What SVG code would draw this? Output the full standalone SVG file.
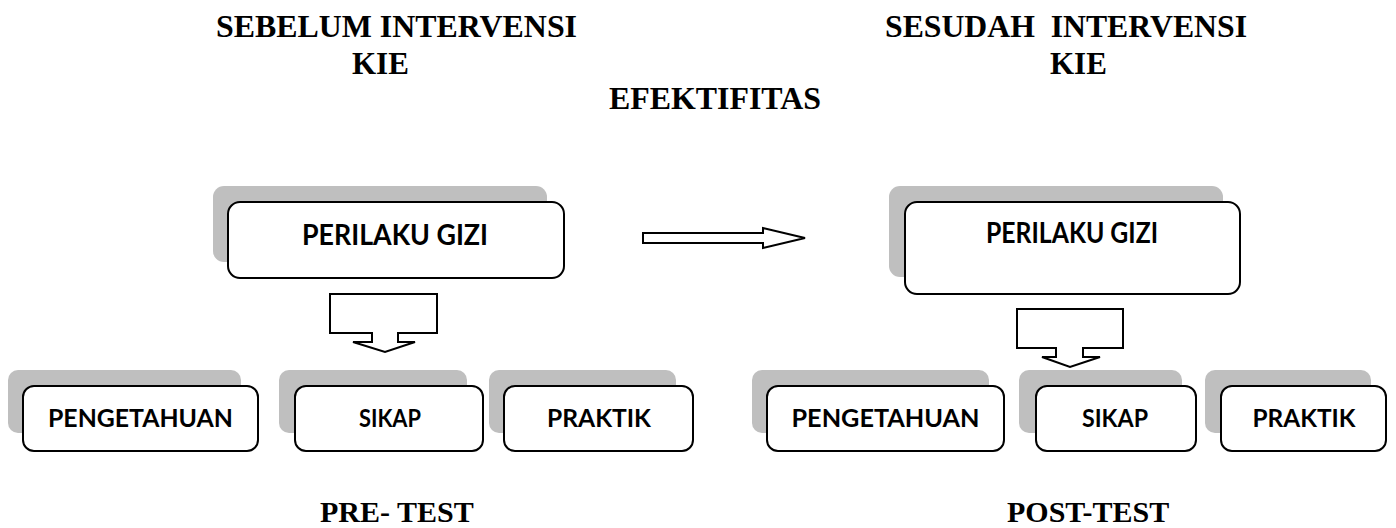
<svg xmlns="http://www.w3.org/2000/svg" width="1396" height="528" viewBox="0 0 1396 528">
<style>
.bg{fill:#ffffff}
.title{font-family:"Liberation Serif","Times New Roman",serif;font-weight:bold;font-size:31px;fill:#000}
.foot{font-size:30px}
.shadow{fill:#bfbfbf;stroke:none}
.box{fill:#ffffff;stroke:#000;stroke-width:2}
.lbl{font-family:Lato,"Liberation Sans",sans-serif;font-weight:bold;fill:#000;text-anchor:middle}
.big{font-size:29px}
.small{font-size:24px}
.arrow{fill:#ffffff;stroke:#000;stroke-width:2;stroke-linejoin:miter}
</style>
<rect class="bg" x="0" y="0" width="1396" height="528"/>

<g id="titles">
<text class="title" x="216" y="37" textLength="361" lengthAdjust="spacingAndGlyphs">SEBELUM INTERVENSI</text>
<text class="title" x="352" y="74">KIE</text>
<text class="title" x="885" y="37" xml:space="preserve" style="white-space:pre" textLength="362" lengthAdjust="spacingAndGlyphs">SESUDAH  INTERVENSI</text>
<text class="title" x="1050" y="74">KIE</text>
<text class="title" x="609" y="109" textLength="212" lengthAdjust="spacingAndGlyphs">EFEKTIFITAS</text>
<text class="title foot" x="320" y="522">PRE- TEST</text>
<text class="title foot" x="1007" y="522">POST-TEST</text>
</g>

<g id="perilaku-pre">
<rect class="shadow" x="213" y="186" width="334" height="76" rx="11"/>
<rect class="box" x="228" y="202" width="336" height="76" rx="12"/>
<text class="lbl big" x="395" y="245" textLength="186" lengthAdjust="spacingAndGlyphs">PERILAKU GIZI</text>
</g>

<g id="perilaku-post">
<rect class="shadow" x="889" y="186" width="334" height="91" rx="11"/>
<rect class="box" x="905" y="202" width="335" height="92" rx="12"/>
<text class="lbl big" x="1072" y="243" textLength="172" lengthAdjust="spacingAndGlyphs">PERILAKU GIZI</text>
</g>

<g id="pengetahuan-pre">
<rect class="shadow" x="8" y="370" width="233" height="63" rx="10"/>
<rect class="box" x="23" y="386" width="235" height="65" rx="11"/>
<text class="lbl small" x="140.5" y="427" textLength="185" lengthAdjust="spacingAndGlyphs">PENGETAHUAN</text>
</g>
<g id="sikap-pre">
<rect class="shadow" x="279" y="370" width="188" height="63" rx="10"/>
<rect class="box" x="295" y="386" width="188" height="65" rx="11"/>
<text class="lbl small" x="390" y="427" textLength="62" lengthAdjust="spacingAndGlyphs">SIKAP</text>
</g>
<g id="praktik-pre">
<rect class="shadow" x="489" y="370" width="187" height="63" rx="10"/>
<rect class="box" x="504" y="386" width="189" height="65" rx="11"/>
<text class="lbl small" x="599" y="427" textLength="104" lengthAdjust="spacingAndGlyphs">PRAKTIK</text>
</g>

<g id="pengetahuan-post">
<rect class="shadow" x="752" y="370" width="237" height="63" rx="10"/>
<rect class="box" x="767" y="386" width="237" height="65" rx="11"/>
<text class="lbl small" x="885.5" y="427" textLength="188" lengthAdjust="spacingAndGlyphs">PENGETAHUAN</text>
</g>
<g id="sikap-post">
<rect class="shadow" x="1019" y="370" width="163" height="63" rx="10"/>
<rect class="box" x="1036" y="386" width="160" height="65" rx="11"/>
<text class="lbl small" x="1115" y="427" textLength="66" lengthAdjust="spacingAndGlyphs">SIKAP</text>
</g>
<g id="praktik-post">
<rect class="shadow" x="1205" y="370" width="166" height="63" rx="10"/>
<rect class="box" x="1221" y="386" width="165" height="65" rx="11"/>
<text class="lbl small" x="1304" y="427" textLength="103" lengthAdjust="spacingAndGlyphs">PRAKTIK</text>
</g>

<g id="connectors">
<path class="arrow" d="M330,294 H437 V333 H398 V342 H415 L385,352 L353,342 H372 V333 H330 Z"/>
<path class="arrow" d="M643,233 H763 V228 L805,238 L763,248 V243 H643 Z"/>
<path class="arrow" d="M1017,309 H1123 V348 H1083 V357 H1100 L1070,367 L1042,357 H1056 V348 H1017 Z"/>
</g>
</svg>
